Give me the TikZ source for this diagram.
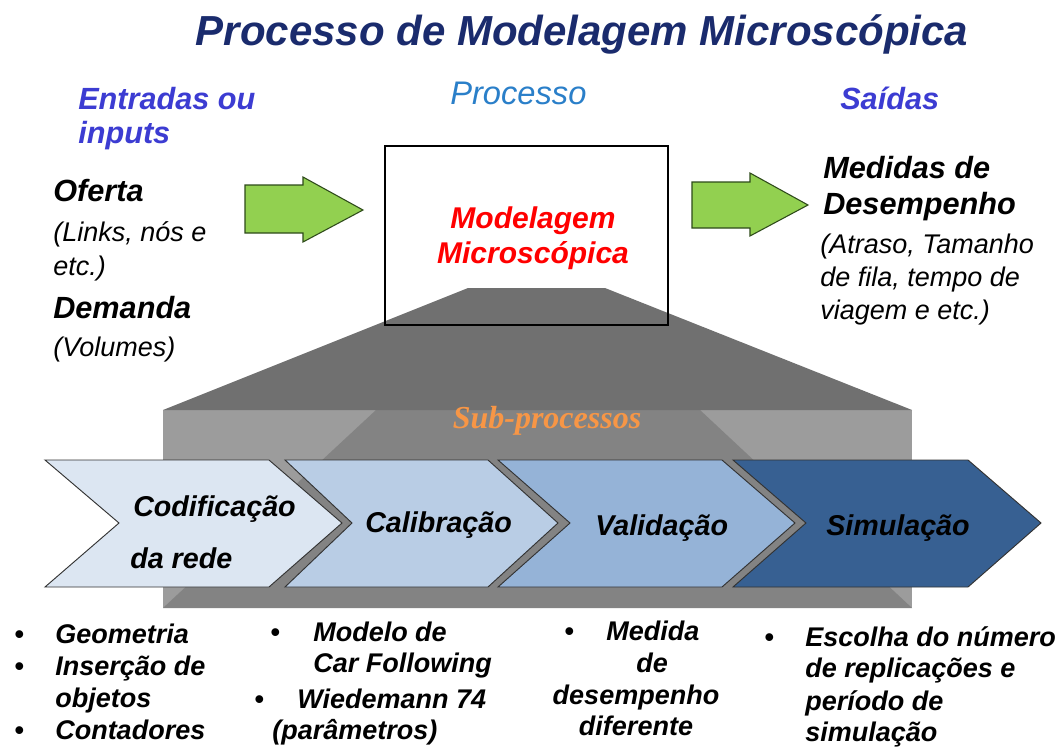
\documentclass[tikz,border=0pt]{standalone}
\usepackage{fontspec}
\setmainfont{Liberation Sans}
\newfontfamily\subfont{Liberation Serif}
\definecolor{titleblue}{HTML}{1A2B6D}
\definecolor{headblue}{HTML}{3C3CD2}
\definecolor{procblue}{HTML}{2A7FC9}
\definecolor{arrowgreen}{HTML}{92D050}
\definecolor{arrowline}{HTML}{2E4A1A}
\definecolor{suborange}{HTML}{F79646}
\definecolor{greydark}{HTML}{707070}
\definecolor{greymid}{HTML}{838383}
\definecolor{greylight}{HTML}{9C9C9C}
\definecolor{chevA}{HTML}{DCE6F2}
\definecolor{chevB}{HTML}{B9CDE5}
\definecolor{chevC}{HTML}{95B3D7}
\definecolor{chevD}{HTML}{376092}
\definecolor{chevline}{HTML}{333333}
\begin{document}
\begin{tikzpicture}[x=0.75pt,y=-0.75pt,
  lbl/.style={inner sep=0pt, anchor=base west},
  clbl/.style={inner sep=0pt, anchor=base},
  bodyi/.style={font=\fontsize{20.25}{24}\selectfont\itshape},
  bodybi/.style={font=\fontsize{20.25}{24}\selectfont\bfseries\itshape},
  headbi/.style={font=\fontsize{23}{27}\selectfont\bfseries\itshape},
  chevtext/.style={font=\fontsize{21.5}{24}\selectfont\bfseries\itshape},
  chev/.style={draw=chevline, line width=0.7pt, line join=miter},
  garrow/.style={fill=arrowgreen, draw=arrowline, line width=0.8pt, line join=miter},
]
\useasboundingbox (0,0) rectangle (1064,747);
\fill[white] (0,0) rectangle (1064,747);

% title and headings
\node[clbl, font=\fontsize{31.5}{36}\selectfont\bfseries\itshape, text=titleblue] (title) at (582,45) {Processo de Modelagem Microscópica};
\node[lbl, headbi, text=headblue] (ent1) at (78,109) {Entradas ou};
\node[lbl, headbi, text=headblue] (ent2) at (78,143) {inputs};
\node[lbl, font=\fontsize{24.5}{28}\selectfont\itshape, text=procblue] (proc) at (450,104) {Processo};
\node[lbl, headbi, text=headblue] (said) at (840,109) {Saídas};

% inputs
\node[lbl, headbi] (oferta) at (53,201) {Oferta};
\node[lbl, bodyi] (links1) at (53,241) {(Links, nós e};
\node[lbl, bodyi] (links2) at (53,275) {etc.)};
\node[lbl, headbi] (demanda) at (53,318) {Demanda};
\node[lbl, bodyi] (vol) at (53,356) {(Volumes)};

% outputs
\node[lbl, headbi] (med1) at (823,178) {Medidas de};
\node[lbl, headbi] (med2) at (823,214) {Desempenho};
\node[lbl, bodyi] (atr1) at (820,253) {(Atraso, Tamanho};
\node[lbl, bodyi] (atr2) at (820,286) {de fila, tempo de};
\node[lbl, bodyi] (atr3) at (820,319) {viagem e etc.)};

% green arrows
\path[garrow] (245,185) -- (303,185) -- (303,177) -- (363,210) -- (303,242) -- (303,233) -- (245,233) -- cycle;
\path[garrow] (692,182) -- (750,182) -- (750,173) -- (808,205) -- (750,236) -- (750,228) -- (692,228) -- cycle;

% grey funnel
\fill[greylight] (163,410) rectangle (912,608);
\fill[greymid] (376,410) -- (700,410) -- (912,608) -- (163,608) -- cycle;
\fill[greydark] (468,288) -- (605,288) -- (912,410) -- (163,410) -- cycle;

% process box
\draw[black, line width=0.9pt] (385,146) rectangle (668,325);
\node[clbl, font=\fontsize{22.5}{27}\selectfont\bfseries\itshape, text=red] (mod1) at (533,228) {Modelagem};
\node[clbl, font=\fontsize{22.5}{27}\selectfont\bfseries\itshape, text=red] (mod2) at (533,263) {Microscópica};

\node[clbl, font=\fontsize{24}{28}\selectfont\subfont\bfseries\itshape, text=suborange] (sub) at (547,428) {Sub-processos};

% chevrons
\path[chev, fill=chevA] (45,460) -- (269,460) -- (342,523) -- (269,587) -- (45,587) -- (119,523) -- cycle;
\path[chev, fill=chevB] (285,460) -- (488,460) -- (558,523) -- (488,587) -- (285,587) -- (352,523) -- cycle;
\path[chev, fill=chevC] (498,460) -- (722,460) -- (795,523) -- (722,587) -- (498,587) -- (570,523) -- cycle;
\path[chev, fill=chevD] (733,460) -- (968,460) -- (1041,523) -- (968,587) -- (733,587) -- (806,523) -- cycle;

\node[lbl, chevtext] (c1a) at (133,516) {Codificação};
\node[lbl, chevtext] (c1b) at (130,568) {da rede};
\node[lbl, chevtext] (c2) at (365,532) {Calibração};
\node[lbl, chevtext] (c3) at (595,535) {Validação};
\node[lbl, chevtext] (c4) at (826,535) {Simulação};

% bottom lists
\node[lbl, bodybi] (b1a) at (14,643) {•};
\node[lbl, bodybi] (t1a) at (55,643) {Geometria};
\node[lbl, bodybi] (b1b) at (14,675) {•};
\node[lbl, bodybi] (t1b) at (55,675) {Inserção de};
\node[lbl, bodybi] (t1c) at (55,707) {objetos};
\node[lbl, bodybi] (b1d) at (14,739) {•};
\node[lbl, bodybi] (t1d) at (55,739) {Contadores};

\node[lbl, bodybi] (b2a) at (270,641) {•};
\node[lbl, bodybi] (t2a) at (313,641) {Modelo de};
\node[lbl, bodybi] (t2b) at (313,672) {Car Following};
\node[lbl, bodybi] (b2c) at (254,708) {•};
\node[lbl, bodybi] (t2c) at (297,708) {Wiedemann 74};
\node[lbl, bodybi] (t2d) at (272,739) {(parâmetros)};

\node[lbl, bodybi] (b3a) at (564,640) {•};
\node[lbl, bodybi] (t3a) at (606,640) {Medida};
\node[clbl, bodybi] (t3b) at (652,672) {de};
\node[clbl, bodybi] (t3c) at (636,704) {desempenho};
\node[clbl, bodybi] (t3d) at (636,735) {diferente};

\node[lbl, bodybi] (b4a) at (764,646) {•};
\node[lbl, bodybi] (t4a) at (805,646) {Escolha do número};
\node[lbl, bodybi] (t4b) at (805,677) {de replicações e};
\node[lbl, bodybi] (t4c) at (805,710) {período de};
\node[lbl, bodybi] (t4d) at (805,741) {simulação};
\end{tikzpicture}
\end{document}
